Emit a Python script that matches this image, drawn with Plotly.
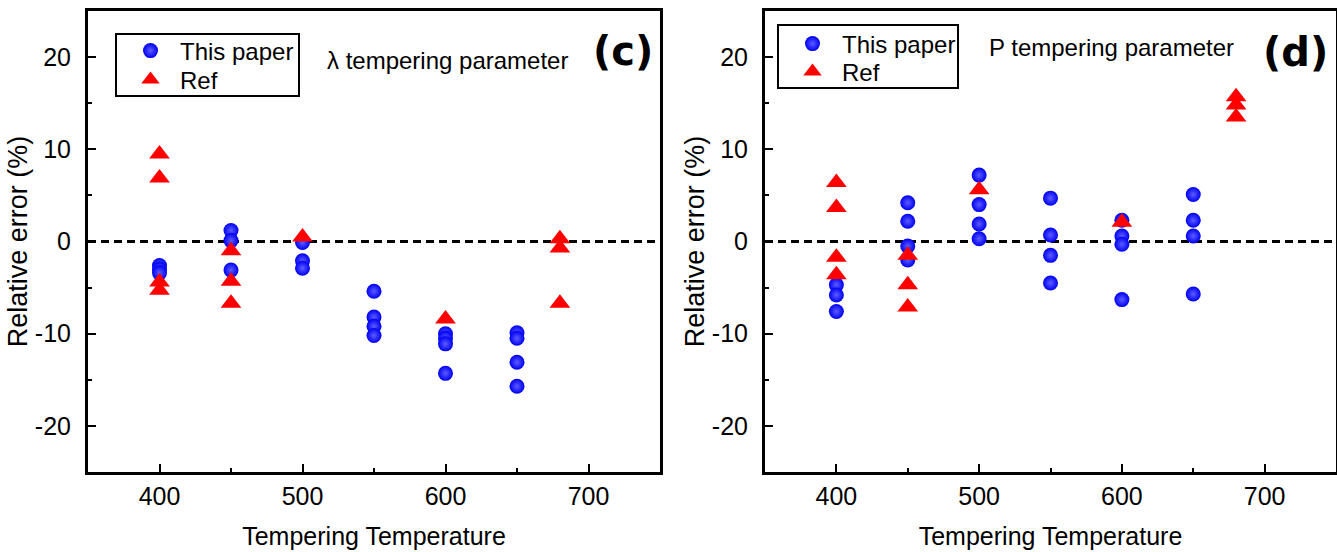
import plotly.graph_objects as go

# (c) lambda tempering parameter: relative error of each prediction (%)
c_paper_temp = [400, 400, 400, 450, 450, 450, 500, 500, 500,
                550, 550, 550, 550, 600, 600, 600, 600, 650, 650, 650, 650]
c_paper_err = [-2.6, -3.0, -3.4, 1.2, 0.1, -3.1, -0.1, -2.1, -2.9,
               -5.4, -8.2, -9.2, -10.2, -10.0, -10.5, -11.1, -14.3, -9.9, -10.5, -13.1, -15.7]
c_ref_temp = [400, 400, 400, 400, 450, 450, 450, 500, 600, 680, 680, 680]
c_ref_err = [9.5, 6.9, -4.4, -5.3, -1.0, -4.3, -6.7, 0.5, -8.4, 0.3, -0.7, -6.7]

# (d) P tempering parameter
d_paper_temp = [400, 400, 400, 450, 450, 450, 450, 500, 500, 500, 500,
                550, 550, 550, 550, 600, 600, 600, 600, 650, 650, 650, 650]
d_paper_err = [-4.7, -5.8, -7.6, 4.2, 2.2, -0.5, -2.0, 7.2, 4.0, 1.9, 0.3,
               4.7, 0.7, -1.5, -4.5, 2.3, 0.6, -0.3, -6.3, 5.1, 2.3, 0.6, -5.7]
d_ref_temp = [400, 400, 400, 400, 450, 450, 450, 500, 600, 680, 680, 680]
d_ref_err = [6.4, 3.7, -1.7, -3.6, -1.5, -4.7, -7.1, 5.6, 2.1, 15.7, 14.8, 13.5]

x_ticks = [400, 500, 600, 700]
x_minor = [450, 550, 650]
y_ticks = [-20, -10, 0, 10, 20]
y_tick_labels = ["-20", "-10", "0", "10", "20"]
y_minor = [-15, -5, 5, 15]
x_range = [350, 750]
y_range = [-25, 25]

FONT = "Liberation Sans, Arial, sans-serif"
BOLD_FONT = "DejaVu Sans, sans-serif"
BLUE = "#0000f2"
RED = "#ff0000"

W, H = 1337, 552

sphere = dict(size=15, color=BLUE, line=dict(width=0),
              gradient=dict(type="radial", color="#5c5cff"))
triangle = dict(size=18, symbol="triangle-up", color=RED, line=dict(width=0))

fig = go.Figure()

# each panel: axes, the two legend slots and its data
panels = [
    ("x", "y", "legend", "legend2", c_paper_temp, c_paper_err, c_ref_temp, c_ref_err),
    ("x2", "y2", "legend3", "legend4", d_paper_temp, d_paper_err, d_ref_temp, d_ref_err),
]
for xa, ya, leg_p, leg_r, pt, pe, rt, re in panels:
    # zero-error reference line
    fig.add_trace(go.Scatter(x=x_range, y=[0, 0], mode="lines", xaxis=xa, yaxis=ya,
                             line=dict(color="black", width=3, dash="8px,5px"),
                             showlegend=False, hoverinfo="skip"))
    fig.add_trace(go.Scatter(x=pt, y=pe, mode="markers", name="This paper",
                             xaxis=xa, yaxis=ya, legend=leg_p, marker=sphere))
    fig.add_trace(go.Scatter(x=rt, y=re, mode="markers", name="Ref",
                             xaxis=xa, yaxis=ya, legend=leg_r, marker=triangle))

y_dom = [1 - 472 / H, 1 - 11 / H]
tick_font = dict(family=FONT, size=25, color="black")

def xaxis(domain, anchor):
    return dict(domain=domain, anchor=anchor, range=x_range, tickvals=x_ticks,
                ticks="inside", ticklen=8, tickwidth=2, tickcolor="black",
                minor=dict(ticks="inside", ticklen=4, tickwidth=2, tickcolor="black",
                           tickvals=x_minor),
                showline=True, linewidth=3, linecolor="black", mirror=True,
                showgrid=False, zeroline=False, ticklabelstandoff=0,
                tickfont=tick_font,
                title=dict(text="Tempering Temperature", standoff=19,
                           font=dict(family=FONT, size=25, color="black")),
                automargin=False)

def yaxis(anchor):
    return dict(domain=y_dom, anchor=anchor, range=y_range, tickvals=y_ticks,
                ticktext=y_tick_labels,
                ticks="inside", ticklen=8, tickwidth=2, tickcolor="black",
                minor=dict(ticks="inside", ticklen=4, tickwidth=2, tickcolor="black",
                           tickvals=y_minor),
                showline=True, linewidth=3, linecolor="black", mirror=True,
                showgrid=False, zeroline=False, ticklabelstandoff=9,
                tickfont=tick_font,
                title=dict(text="Relative error (%)", standoff=0,
                           font=dict(family=FONT, size=27, color="black")),
                automargin=False)

legend_style = dict(xanchor="left", yanchor="middle", bgcolor="rgba(0,0,0,0)",
                    borderwidth=0, itemwidth=49,
                    font=dict(family=FONT, size=24, color="black"))

# legend entries (left px, centre px) and frames (x0, y0, x1, y1 px)
legend_rows = {"legend": (121, 51), "legend2": (121, 80),
               "legend3": (783, 44), "legend4": (783, 72)}
legend_frames = [(116, 34, 299, 96), (778, 25, 958, 88)]

layout_legends = {name: dict(x=px / W, y=1 - py / H, **legend_style)
                  for name, (px, py) in legend_rows.items()}

fig.update_layout(
    width=W, height=H,
    margin=dict(l=0, r=0, t=0, b=0),
    paper_bgcolor="white", plot_bgcolor="white",
    xaxis=xaxis([88 / W, 660 / W], "y"),
    yaxis=yaxis("x"),
    xaxis2=xaxis([765 / W, 1336 / W], "y2"),
    yaxis2=yaxis("x2"),
    showlegend=True,
    **layout_legends,
)

for x0, y0, x1, y1 in legend_frames:
    fig.add_shape(type="rect", xref="paper", yref="paper",
                  x0=x0 / W, x1=x1 / W, y0=1 - y1 / H, y1=1 - y0 / H,
                  line=dict(color="black", width=2), fillcolor="rgba(0,0,0,0)",
                  layer="above")

notes = [
    ("λ tempering parameter", 325, 60, 24, FONT, False),
    ("(c)", 591, 51, 40, BOLD_FONT, True),
    ("P tempering parameter", 987, 47, 24, FONT, False),
    ("(d)", 1261, 52, 40, BOLD_FONT, True),
]
for text, px, py, size, family, bold in notes:
    fig.add_annotation(text=f"<b>{text}</b>" if bold else text,
                       xref="paper", yref="paper", x=px / W, y=1 - py / H,
                       xanchor="left", yanchor="middle", showarrow=False,
                       font=dict(family=family, size=size, color="black"))

fig.write_html("out.html")
